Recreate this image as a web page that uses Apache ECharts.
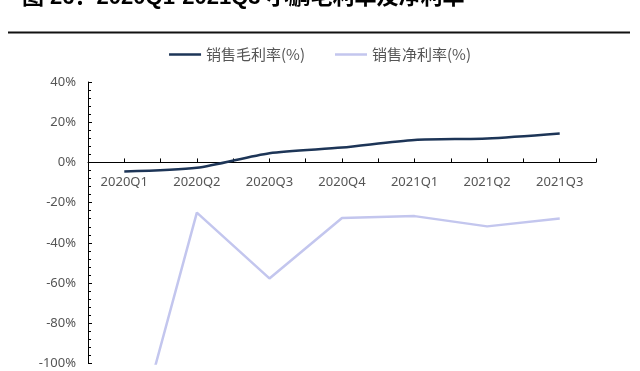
<!DOCTYPE html>
<html><head><meta charset="utf-8">
<script src="https://cdn.jsdelivr.net/npm/echarts@6/dist/echarts.min.js"></script>
<style>html,body{margin:0;padding:0;background:#fff}#c{width:640px;height:371px}</style>
</head><body><div id="c"></div>
<script>
const categories = ['2020Q1','2020Q2','2020Q3','2020Q4','2021Q1','2021Q2','2021Q3'];
const grossMargin = [-4.5, -2.7, 4.6, 7.4, 11.2, 11.9, 14.4];
const netMargin = [-158, -25.0, -57.7, -27.6, -26.7, -31.8, -27.9];
const seriesNames = ['销售毛利率(%)', '销售净利率(%)'];
const titleText = '图 26：2020Q1-2021Q3 小鹏毛利率及净利率';
const yMin = -100, yMax = 40, yStep = 20;

const chart = echarts.init(document.getElementById('c'), null, {renderer:'canvas'});
const labelColor = '#555555';
const c1 = '#1d3557', c2 = '#c3c6ee';
const H = 371, gTop = 82, gBottom = 7.5;
const gH = H - gTop - gBottom;
const zeroOffset = -(gH * (0 - yMin) / (yMax - yMin));
chart.setOption({
  animation: false,
  graphic: [
    {type:'text', left:22, top:-13, style:{text:titleText, font:'bold 22px "Liberation Sans","Noto Sans CJK SC"', fill:'#000'}},
    {type:'line', shape:{x1:8,y1:32.5,x2:630,y2:32.5}, style:{stroke:'#111', lineWidth:2}}
  ],
  legend: {
    top: 42, left: 'center',
    itemWidth: 32, itemHeight: 2.5, itemGap: 30,
    textStyle: {color: labelColor, fontSize: 15, fontFamily: '"Noto Sans CJK SC"'},
    data: [
      {name: seriesNames[0], icon: 'rect', itemStyle:{color:c1}},
      {name: seriesNames[1], icon: 'rect', itemStyle:{color:c2}}
    ]
  },
  grid: {left: 88, right: 44, top: gTop, bottom: gBottom, containLabel: false, outerBoundsMode: 'none'},
  xAxis: [
    {type:'category', data: categories, boundaryGap: true, position:'bottom',
     axisLine:{onZero:true, lineStyle:{color:'#000', width:1}},
     axisTick:{show:true, inside:true, length:4, interval:0, lineStyle:{color:'#000'}},
     axisLabel:{show:false}},
    {type:'category', data: categories, boundaryGap: true, position:'bottom', offset: zeroOffset,
     axisLine:{show:false, onZero:false},
     axisTick:{show:true, inside:true, length:4, alignWithLabel:true, interval:0, lineStyle:{color:'#000'}},
     axisLabel:{color: labelColor, fontSize: 13, margin: 13, interval:0, fontFamily:'"Noto Sans","Noto Sans CJK SC"'}}
  ],
  yAxis: {
    type:'value', min:yMin, max:yMax, interval:yStep,
    axisLine:{show:true, lineStyle:{color:'#000', width:1}},
    axisTick:{show:true, inside:true, length:4, lineStyle:{color:'#000'}},
    minorTick:{show:true, splitNumber:5, length:3, lineStyle:{color:'#000'}},
    splitLine:{show:false},
    axisLabel:{formatter:'{value}%', color: labelColor, fontSize: 13, margin: 12, fontFamily:'"Noto Sans","Noto Sans CJK SC"'}
  },
  series: [
    {name: seriesNames[0], type:'line', data: grossMargin, symbol:'none', smooth:0.25,
     lineStyle:{color:c1, width:2.5}, itemStyle:{color:c1}},
    {name: seriesNames[1], type:'line', data: netMargin, symbol:'none', smooth:false,
     lineStyle:{color:c2, width:2.5}, itemStyle:{color:c2}}
  ]
});
</script></body></html>
